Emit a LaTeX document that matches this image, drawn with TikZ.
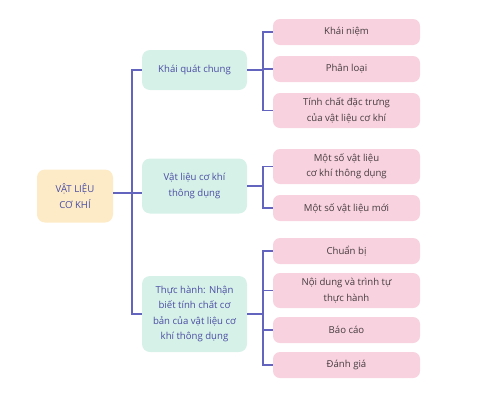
\documentclass[tikz,border=0pt]{standalone}
\usepackage{fontspec}
\setmainfont{Open Sans}
\usepackage{tikz}
\usetikzlibrary{positioning}

\definecolor{linkblue}{RGB}{98,100,190}
\definecolor{textblue}{RGB}{74,77,163}
\definecolor{textgray}{RGB}{70,60,65}
\definecolor{rootfill}{RGB}{253,235,200}
\definecolor{mainfill}{RGB}{214,241,232}
\definecolor{subfill}{RGB}{248,210,222}

\begin{document}
\begin{tikzpicture}[x=1pt, y=-1pt,
        every node/.style={font=\fontsize{9.6}{15.5}\selectfont, align=center},
        rootbox/.style={rounded corners=8pt, fill=rootfill, text=textblue, minimum width=76pt, minimum height=53pt, inner sep=0pt},
        mainbox/.style={rounded corners=8pt, fill=mainfill, text=textblue, minimum width=105pt, inner sep=0pt},
        subbox/.style={rounded corners=7pt, fill=subfill, text=textgray, minimum width=147pt, inner sep=0pt},
        link/.style={draw=linkblue, line width=1.2pt}]
    \useasboundingbox (0,0) rectangle (485,405);
    \node[rootbox] (root) at (75,196) {VẬT LIỆU\\CƠ KHÍ};
    \node[mainbox, minimum height=40pt] (gen) at (194.5,70) {Khái quát chung};
    \node[mainbox, minimum height=55pt] (com) at (194.5,186) {Vật liệu cơ khí\\thông dụng};
    \node[mainbox, minimum height=76pt] (prac) at (194.5,314) {Thực hành: Nhận\\biết tính chất cơ\\bản của vật liệu cơ\\khí thông dụng};
    \node[subbox, minimum height=26pt] (concept) at (346.5,32) {Khái niệm};
    \node[subbox, minimum height=26pt] (classify) at (346.5,69) {Phân loại};
    \node[subbox, minimum height=35pt] (property) at (346.5,110.5) {Tính chất đặc trưng\\của vật liệu cơ khí};
    \node[subbox, minimum height=35pt] (common) at (346.5,166.5) {Một số vật liệu\\cơ khí thông dụng};
    \node[subbox, minimum height=26pt] (newmat) at (346.5,208) {Một số vật liệu mới};
    \node[subbox, minimum height=26pt] (prepare) at (346.5,251) {Chuẩn bị};
    \node[subbox, minimum height=35pt] (steps) at (346.5,290.5) {Nội dung và trình tự\\thực hành};
    \node[subbox, minimum height=26pt] (report) at (346.5,330) {Báo cáo};
    \node[subbox, minimum height=26pt] (assess) at (346.5,365) {Đánh giá};
    \coordinate (bus) at (132,193);
    \coordinate (bus1) at (263,70);
    \coordinate (bus2) at (263,186);
    \coordinate (bus3) at (263,314);
    \draw[link] (root.east |- bus) -- (bus -| com.west);
    \draw[link] (gen.west) -| (bus);
    \draw[link] (prac.west) -| (bus);
    \draw[link] (gen.east) -- (bus1);
    \draw[link] (com.east) -- (bus2);
    \draw[link] (prac.east) -- (bus3);
    \draw[link] (concept.west) -| (bus1);
    \draw[link] (classify.west) -| (bus1);
    \draw[link] (property.west) -| (bus1);
    \draw[link] (common.west) -| (bus2);
    \draw[link] (newmat.west) -| (bus2);
    \draw[link] (prepare.west) -| (bus3);
    \draw[link] (steps.west) -| (bus3);
    \draw[link] (report.west) -| (bus3);
    \draw[link] (assess.west) -| (bus3);
\end{tikzpicture}
\end{document}
